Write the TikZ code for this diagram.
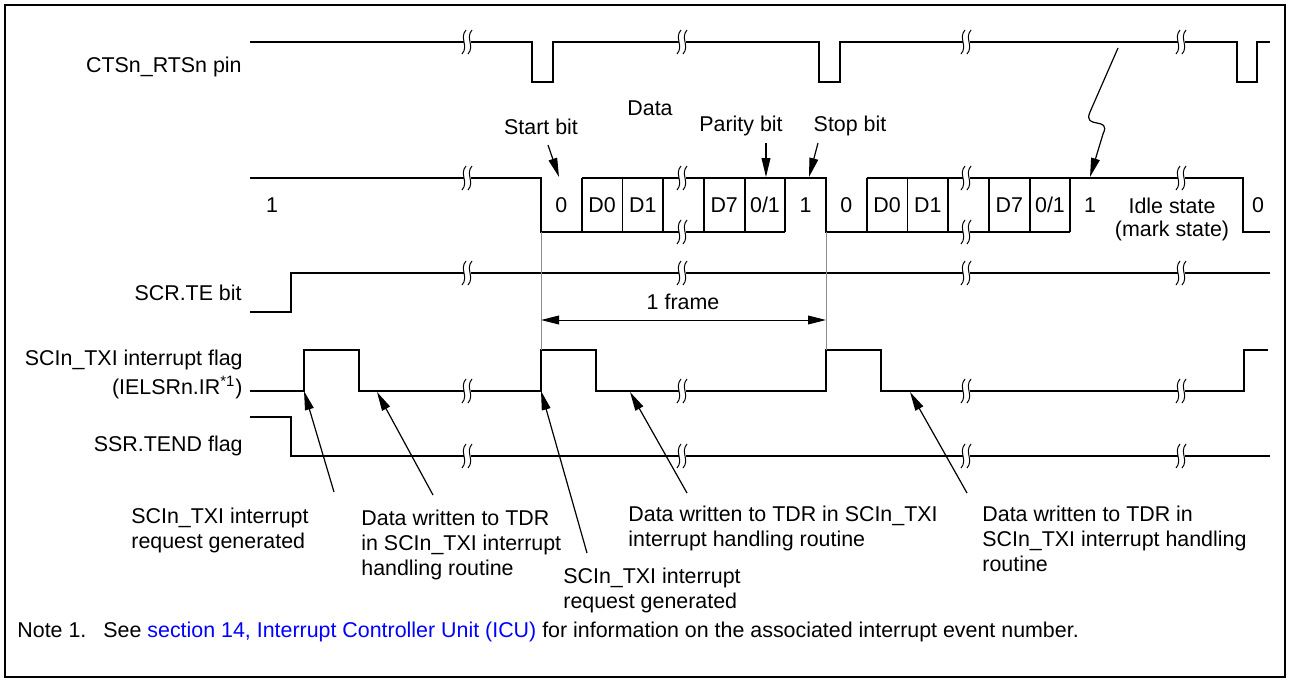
\documentclass[tikz,border=0pt]{standalone}
\usepackage{fontspec}
\setmainfont{Liberation Sans}
\usetikzlibrary{arrows.meta}
\definecolor{ink}{HTML}{000000}
\definecolor{guide}{HTML}{8C8C8C}
\definecolor{link}{HTML}{0000FF}
\newcommand{\brk}[2]{%
  \fill[white] (#1-3.5,#2-5) rectangle (#1+3.5,#2+5);
  \draw[line width=.5pt] (#1-1,#2-12) .. controls (#1-8,#2-4) and (#1+2,#2+4) .. (#1-5,#2+12);
  \draw[line width=.5pt] (#1+5,#2-12) .. controls (#1-2,#2-4) and (#1+8,#2+4) .. (#1+1,#2+12);
}

\begin{document}
\begin{tikzpicture}[x=.5pt,y=-.5pt,font=\fontsize{10.7}{12.5}\selectfont,text=ink,
  sig/.style={draw=ink,line width=.9pt},
  guideline/.style={draw=guide,line width=.5pt},
  callout/.style={draw=ink,line width=.6pt,-{Triangle[length=9.5pt,width=4.4pt]}},
  span/.style={draw=ink,line width=.5pt,
    {Triangle[length=9pt,width=4.4pt]}-{Triangle[length=9pt,width=4.4pt]}},
  lbl/.style={anchor=base east,inner sep=0pt},
  bit/.style={anchor=base,inner sep=0pt},
  txt/.style={anchor=north west,align=left,inner sep=0pt}]
  \useasboundingbox (0,0) rectangle (1290,680);
  \draw[line width=1.2pt] (5,5) rectangle (1285,677);

  \node[lbl] (ctslbl) at (242,72.6) {CTSn\_RTSn pin};
  \node[lbl] (telbl) at (242,300.6) {SCR.TE bit};
  \node[anchor=north east,align=right,inner sep=0pt] (txilbl) at (243,349.4)
    {SCIn\_TXI interrupt flag\\[2pt](IELSRn.IR\textsuperscript{*1})};
  \node[lbl] (tendlbl) at (243,451.6) {SSR.TEND flag};

  \draw[sig] (250,42) -- (532,42) -- (532,82) -- (553,82) -- (553,42)
    -- (819,42) -- (819,82) -- (840,82) -- (840,42) -- (1237,42)
    -- (1237,82) -- (1257,82) -- (1257,42) -- (1270,42);

  \draw[sig] (250,178) -- (541,178) -- (541,232) -- (785.3,232);
  \draw[sig] (581.7,178) -- (826,178) -- (826,232) -- (1070.3,232);
  \draw[sig] (866.7,178) -- (1243,178) -- (1243,232) -- (1270,232);
  \foreach \bx in {581.7,622.4,663.1,703.9,744.6,785.3,
                   866.7,907.4,948.1,988.9,1029.6,1070.3}
    \draw[sig] (\bx,178) -- (\bx,232);

  \draw[sig] (250,312) -- (291,312) -- (291,273) -- (1270,273);
  \draw[sig] (250,391) -- (304,391) -- (304,350) -- (359,350) -- (359,391)
    -- (541,391) -- (541,350) -- (596,350) -- (596,391) -- (826,391)
    -- (826,350) -- (881,350) -- (881,391) -- (1244,391) -- (1244,350)
    -- (1268,350);
  \draw[sig] (250,417) -- (291,417) -- (291,456) -- (1270,456);

  \draw[guideline] (541,232) -- (541,350);
  \draw[guideline] (826,232) -- (826,350);

  \foreach \bx in {467,682,966,1181} {
    \brk{\bx}{42}
    \brk{\bx}{178}
    \brk{\bx}{273}
    \brk{\bx}{391}
    \brk{\bx}{456}
  }
  \brk{682}{232}
  \brk{966}{232}

  \node[bit] (idle1) at (272,212.6) {1};
  \foreach \bx/\bt [count=\i] in {561.4/0,602/D0,642.8/D1,724.2/D7,765/0\slash 1,805.6/1,
      846.4/0,887/D0,927.8/D1,1009.3/D7,1050/0\slash 1,1090/1,1258/0}
    \node[bit] (bit\i) at (\bx,212.6) {\bt};
  \node[anchor=north,align=center,inner sep=0pt] (idlestate) at (1172,197.4)
    {Idle state\\[-1pt](mark state)};

  \node[bit] (datalbl) at (650,115.6) {Data};
  \node[bit] (startlbl) at (541,134.6) {Start bit};
  \node[bit] (paritylbl) at (741,131.6) {Parity bit};
  \node[bit] (stoplbl) at (850,131.6) {Stop bit};
  \coordinate (starttail) at (548,145);
  \coordinate (starttip) at (559,177);
  \coordinate (paritytail) at (766,143);
  \coordinate (paritytip) at (766,177);
  \coordinate (stoptail) at (818,143);
  \coordinate (stoptip) at (809,177);
  \draw[callout] (starttail) -- (starttip);
  \draw[callout] (paritytail) -- (paritytip);
  \draw[callout] (stoptail) -- (stoptip);

  \coordinate (ctsidle) at (1118,48);
  \coordinate (dataidle) at (1090,177);
  \draw[callout] (ctsidle) -- (1090,112) .. controls (1082,130) and (1112,116) .. (1103,134)
    -- (dataidle);

  \coordinate (framestart) at (541,320);
  \coordinate (frameend) at (826,320);
  \draw[span] (framestart) -- (frameend);
  \node[bit] (framelbl) at (683,309.6) {1 frame};

  \node[txt] (reqa) at (131,507.4) {SCIn\_TXI interrupt\\request generated};
  \node[txt] (wra) at (361,509.4)
    {Data written to TDR\\in SCIn\_TXI interrupt\\handling routine};
  \node[txt] (reqb) at (563,567.4) {SCIn\_TXI interrupt\\request generated};
  \node[txt] (wrb) at (628,505.4)
    {Data written to TDR in SCIn\_TXI\\interrupt handling routine};
  \node[txt] (wrc) at (982,505.4)
    {Data written to TDR in\\SCIn\_TXI interrupt handling\\routine};

  \coordinate (tipa) at (304,391);
  \coordinate (taila) at (334,492);
  \coordinate (tipb) at (377,392);
  \coordinate (tailb) at (433,495);
  \coordinate (tipc) at (541,391);
  \coordinate (tailc) at (587,553);
  \coordinate (tipd) at (630,392);
  \coordinate (taild) at (687,493);
  \coordinate (tipe) at (910,392);
  \coordinate (taile) at (967,493);
  \draw[callout] (taila) -- (tipa);
  \draw[callout] (tailb) -- (tipb);
  \draw[callout] (tailc) -- (tipc);
  \draw[callout] (taild) -- (tipd);
  \draw[callout] (taile) -- (tipe);

  \node[anchor=base west,inner sep=0pt] (notelbl) at (17,637.6) {Note 1.};
  \node[anchor=base west,inner sep=0pt] (notetext) at (103,637.6)
    {See \textcolor{link}{section 14, Interrupt Controller Unit (ICU)} for information
     on the associated interrupt event number.};
\end{tikzpicture}
\end{document}
